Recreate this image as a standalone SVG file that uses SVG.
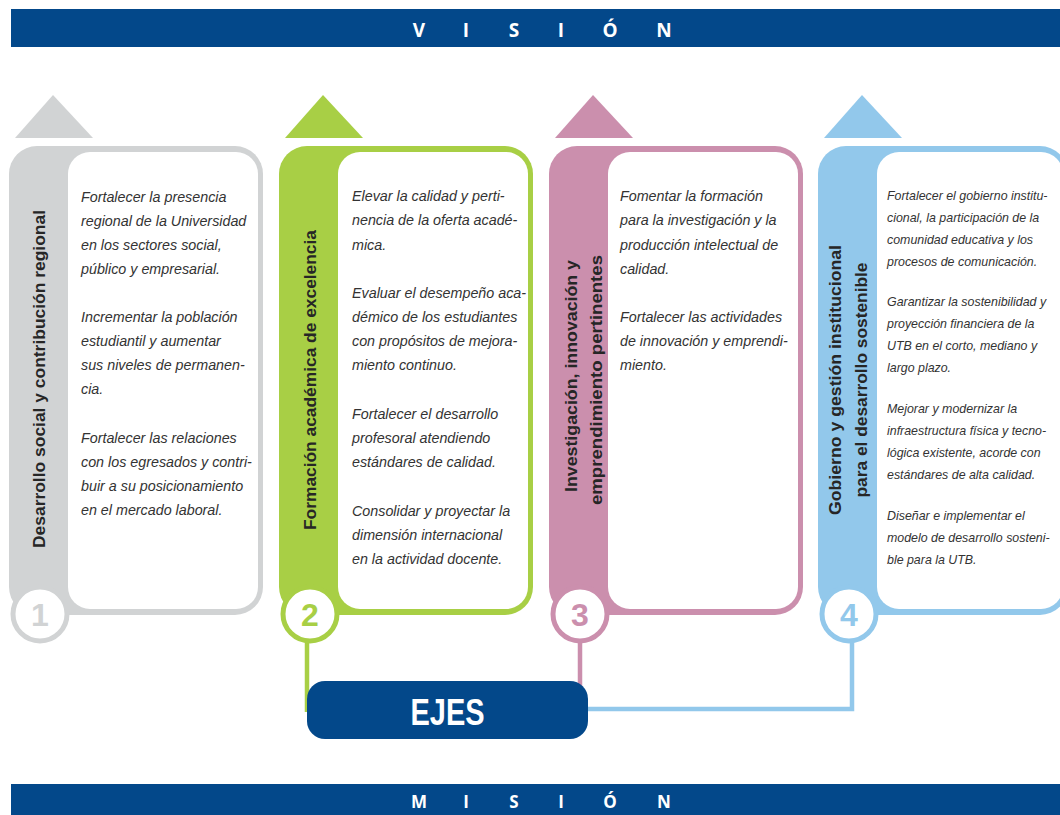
<svg xmlns="http://www.w3.org/2000/svg" width="1060" height="815" viewBox="0 0 1060 815">
<style>
.banner{fill:#03488a}
.bt{font-family:"Open Sans","Liberation Sans",sans-serif;font-weight:700;font-size:19px;fill:#ffffff;text-anchor:middle}
.bt2{font-size:17px}
.body{font-family:"Liberation Sans",Arial,sans-serif;font-style:italic;font-size:14.3px;fill:#333333}
.b4{font-size:12.4px}
.lbl{font-family:"Liberation Sans",Arial,sans-serif;font-weight:700;font-size:17px;fill:#262626;text-anchor:middle}
.num{font-family:"Liberation Sans",Arial,sans-serif;font-weight:700;font-size:32px;text-anchor:middle}
.inner{fill:#ffffff}
.ring{fill:#ffffff;stroke-width:5}
.grey{fill:#d1d3d4}
.green{fill:#a8cf45}
.pink{fill:#cb8fad}
.blue{fill:#92c8eb}
.conn{fill:none;stroke-width:4.5}
.ejes{font-family:"Liberation Sans",Arial,sans-serif;font-weight:700;font-size:36px;fill:#ffffff;text-anchor:middle}
</style>

<g id="vision">
<rect class="banner" x="11" y="9" width="1049" height="38"/>
<text class="bt" y="37"><tspan x="419">V</tspan><tspan x="466">I</tspan><tspan x="514">S</tspan><tspan x="561">I</tspan><tspan x="610">Ó</tspan><tspan x="664">N</tspan></text>
</g>

<g id="mision">
<rect class="banner" x="11" y="784" width="1049" height="31"/>
<text class="bt bt2" y="808"><tspan x="419">M</tspan><tspan x="466">I</tspan><tspan x="514">S</tspan><tspan x="561">I</tspan><tspan x="610">Ó</tspan><tspan x="664">N</tspan></text>
</g>

<g id="connectors">
<line class="conn" x1="307" y1="640" x2="307" y2="712" stroke="#a8cf45"/>
<line class="conn" x1="580" y1="640" x2="580" y2="705" stroke="#cb8fad"/>
<polyline class="conn" points="852,640 852,709 580,709" stroke="#92c8eb"/>
</g>

<g id="ejes">
<rect x="307" y="681" width="281" height="58" rx="18" fill="#03488a"/>
<text class="ejes" x="447.5" y="725" textLength="74" lengthAdjust="spacingAndGlyphs">EJES</text>
</g>

<g id="eje1" transform="translate(9,0)">
<polygon class="grey" points="6,138 44,95 84,138"/>
<rect class="grey" x="0" y="146" width="254" height="469" rx="28"/>
<rect class="inner" x="59" y="152" width="190" height="457" rx="22"/>
<circle class="ring" cx="31" cy="614" r="27" stroke="#d1d3d4"/>
<text class="num" x="31" y="625.5" fill="#d1d3d4">1</text>
<text class="lbl" transform="translate(36,379) rotate(-90)" textLength="338" lengthAdjust="spacingAndGlyphs">Desarrollo social y contribución regional</text>
<text class="body">
<tspan x="72" y="202">Fortalecer la presencia</tspan>
<tspan x="72" y="226">regional de la Universidad</tspan>
<tspan x="72" y="250">en los sectores social,</tspan>
<tspan x="72" y="274">público y empresarial.</tspan>
<tspan x="72" y="322">Incrementar la población</tspan>
<tspan x="72" y="346">estudiantil y aumentar</tspan>
<tspan x="72" y="370">sus niveles de permanen-</tspan>
<tspan x="72" y="394">cia.</tspan>
<tspan x="72" y="443">Fortalecer las relaciones</tspan>
<tspan x="72" y="467">con los egresados y contri-</tspan>
<tspan x="72" y="491">buir a su posicionamiento</tspan>
<tspan x="72" y="515">en el mercado laboral.</tspan>
</text>
</g>

<g id="eje2" transform="translate(279,0)">
<polygon class="green" points="6,138 44,95 84,138"/>
<rect class="green" x="0" y="146" width="254" height="469" rx="28"/>
<rect class="inner" x="59" y="152" width="190" height="457" rx="22"/>
<circle class="ring" cx="31" cy="614" r="27" stroke="#a8cf45"/>
<text class="num" x="31" y="625.5" fill="#a8cf45">2</text>
<text class="lbl" transform="translate(37,380) rotate(-90)" textLength="300" lengthAdjust="spacingAndGlyphs">Formación académica de excelencia</text>
<text class="body">
<tspan x="73" y="201">Elevar la calidad y perti-</tspan>
<tspan x="73" y="225">nencia de la oferta acadé-</tspan>
<tspan x="73" y="250">mica.</tspan>
<tspan x="73" y="298">Evaluar el desempeño aca-</tspan>
<tspan x="73" y="322">démico de los estudiantes</tspan>
<tspan x="73" y="346">con propósitos de mejora-</tspan>
<tspan x="73" y="370">miento continuo.</tspan>
<tspan x="73" y="419">Fortalecer el desarrollo</tspan>
<tspan x="73" y="443">profesoral atendiendo</tspan>
<tspan x="73" y="467">estándares de calidad.</tspan>
<tspan x="73" y="516">Consolidar y proyectar la</tspan>
<tspan x="73" y="540">dimensión internacional</tspan>
<tspan x="73" y="564">en la actividad docente.</tspan>
</text>
</g>

<g id="eje3" transform="translate(549,0)">
<polygon class="pink" points="6,138 44,95 84,138"/>
<rect class="pink" x="0" y="146" width="254" height="469" rx="28"/>
<rect class="inner" x="59" y="152" width="190" height="457" rx="22"/>
<circle class="ring" cx="31" cy="614" r="27" stroke="#cb8fad"/>
<text class="num" x="31" y="625.5" fill="#cb8fad">3</text>
<text class="lbl" transform="translate(28,376) rotate(-90)" textLength="232" lengthAdjust="spacingAndGlyphs">Investigación, innovación y</text>
<text class="lbl" transform="translate(53,380) rotate(-90)" textLength="250" lengthAdjust="spacingAndGlyphs">emprendimiento pertinentes</text>
<text class="body">
<tspan x="71" y="201">Fomentar la formación</tspan>
<tspan x="71" y="225">para la investigación y la</tspan>
<tspan x="71" y="250">producción intelectual de</tspan>
<tspan x="71" y="274">calidad.</tspan>
<tspan x="71" y="322">Fortalecer las actividades</tspan>
<tspan x="71" y="346">de innovación y emprendi-</tspan>
<tspan x="71" y="370">miento.</tspan>
</text>
</g>

<g id="eje4" transform="translate(818,0)">
<polygon class="blue" points="6,138 44,95 84,138"/>
<rect class="blue" x="0" y="146" width="250" height="469" rx="28"/>
<rect class="inner" x="59" y="152" width="186" height="457" rx="22"/>
<circle class="ring" cx="31" cy="614" r="27" stroke="#92c8eb"/>
<text class="num" x="31" y="625.5" fill="#92c8eb">4</text>
<text class="lbl" transform="translate(23,380) rotate(-90)" textLength="270" lengthAdjust="spacingAndGlyphs">Gobierno y gestión institucional</text>
<text class="lbl" transform="translate(49,380) rotate(-90)" textLength="235" lengthAdjust="spacingAndGlyphs">para el desarrollo sostenible</text>
<text class="body b4">
<tspan x="69" y="200">Fortalecer el gobierno institu-</tspan>
<tspan x="69" y="222">cional, la participación de la</tspan>
<tspan x="69" y="244">comunidad educativa y los</tspan>
<tspan x="69" y="266">procesos de comunicación.</tspan>
<tspan x="69" y="306">Garantizar la sostenibilidad y</tspan>
<tspan x="69" y="328">proyección financiera de la</tspan>
<tspan x="69" y="350">UTB en el corto, mediano y</tspan>
<tspan x="69" y="372">largo plazo.</tspan>
<tspan x="69" y="413">Mejorar y modernizar la</tspan>
<tspan x="69" y="435">infraestructura física y tecno-</tspan>
<tspan x="69" y="457">lógica existente, acorde con</tspan>
<tspan x="69" y="479">estándares de alta calidad.</tspan>
<tspan x="69" y="520">Diseñar e implementar el</tspan>
<tspan x="69" y="542">modelo de desarrollo sosteni-</tspan>
<tspan x="69" y="564">ble para la UTB.</tspan>
</text>
</g>
</svg>
